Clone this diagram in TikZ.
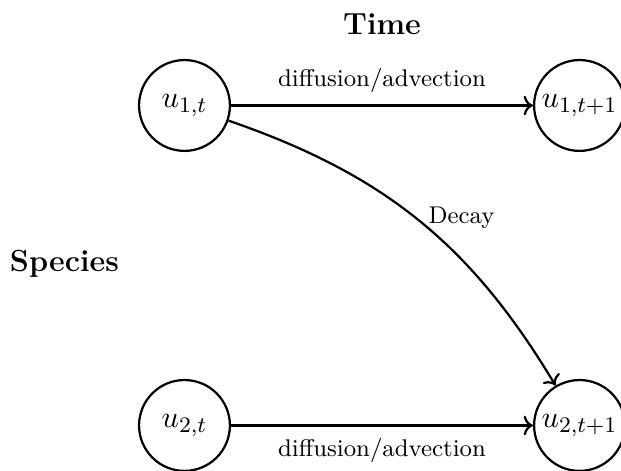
\documentclass[tikz,border=0pt]{standalone}
\usetikzlibrary{arrows.meta}
\begin{document}
\begin{tikzpicture}[
  state/.style={circle, draw, thick, minimum size=1.15cm, inner sep=0pt, font=\fontsize{11}{13}\selectfont},
  flow/.style={->, thick},
  lab/.style={font=\fontsize{8.7}{10}\selectfont},
  head/.style={font=\fontsize{11}{13}\selectfont\bfseries}
]
\useasboundingbox (-2.335,1.335) rectangle (5.525,-4.614);
\node[state] (a1) at (0,0) {$u_{1,t}$};
\node[state] (b1) at (5,0) {$u_{1,t+1}$};
\node[state] (a2) at (0,-4.05) {$u_{2,t}$};
\node[state] (b2) at (5,-4.05) {$u_{2,t+1}$};
\node[head] (time) at (2.5,1.03) {Time};
\node[head] (species) at (-1.52,-2.0) {Species};
\draw[flow] (a1) -- node[lab, above=1pt] {diffusion/advection} (b1);
\draw[flow] (a2) -- node[lab, below=1pt] {diffusion/advection} (b2);
\draw[flow] (a1) to[bend left=20] node[lab, pos=0.52, anchor=south west, inner sep=0.5pt, yshift=-2pt, xshift=0.5pt] {Decay} (b2);
\end{tikzpicture}
\end{document}
